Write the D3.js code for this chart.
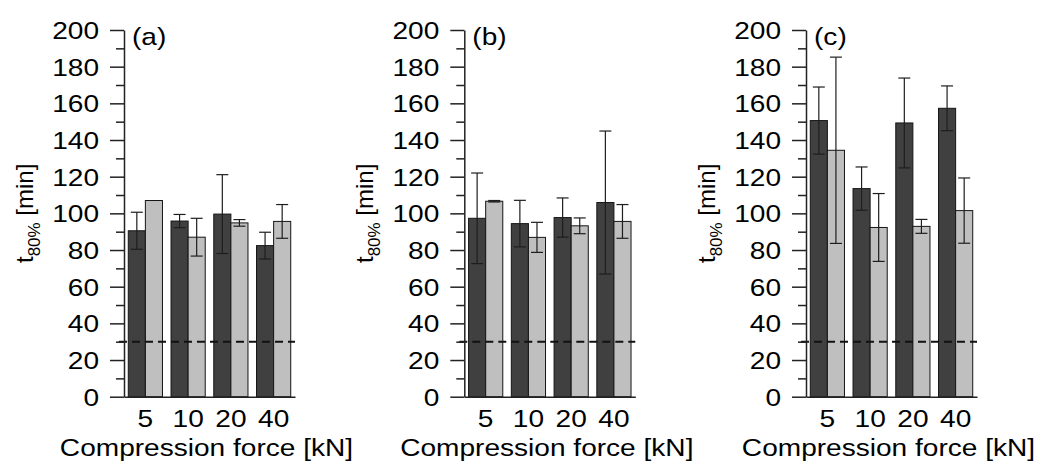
<!DOCTYPE html>
<html>
<head>
<meta charset="utf-8">
<script src="https://cdn.jsdelivr.net/npm/d3@7"></script>
<style>
  html, body { margin: 0; padding: 0; background: #fff; }
  svg { display: block; }
  text { font-family: "Liberation Sans", Arial, sans-serif; fill: #000; }
</style>
</head>
<body>
<svg id="chart" width="1046" height="464"></svg>
<script>
// ---- data ----
const categories = ["5", "10", "20", "40"];
const panelLabels = ["(a)", "(b)", "(c)"];
const darkValues = [
  [90.5, 95.8, 99.6, 82.4],
  [97.3, 94.4, 97.7, 105.9],
  [150.6, 113.5, 149.3, 157.3]
];
const darkErrors = [
  [10.1, 3.6, 21.5, 7.3],
  [24.7, 12.7, 10.7, 39.0],
  [18.3, 11.8, 24.5, 12.2]
];
const lightValues = [
  [107.0, 87.0, 94.8, 95.6],
  [106.6, 86.9, 93.2, 95.6],
  [134.4, 92.3, 92.9, 101.5]
];
const lightErrors = [
  [0.0, 10.3, 1.8, 9.2],
  [0.4, 8.2, 4.3, 9.2],
  [50.8, 18.5, 3.8, 17.8]
];
const yMajorTicks = [0, 20, 40, 60, 80, 100, 120, 140, 160, 180, 200];
const yMinorTicks = [10, 30, 50, 70, 90, 110, 130, 150, 170, 190];
const thresholdValue = 30;
const xTitle = "Compression force [kN]";

// ---- layout ----
const svg = d3.select("#chart");
const panelX = [124, 464.3, 806];
const panelW = 171;
const yTop = 30, yBottom = 396.7;
const SX = 1.17; // horizontal glyph stretch of the original figure
const darkFill = "#404040", lightFill = "#bfbfbf";

const y = d3.scaleLinear().domain([0, 200]).range([yBottom, yTop]);

panelLabels.forEach((lab, p) => {
  const x0 = panelX[p];
  const g = svg.append("g");
  const x = d3.scaleBand().domain(categories).range([x0, x0 + panelW])
    .paddingInner(0.2).paddingOuter(0.1);
  const sub = d3.scaleBand().domain(["dark", "light"]).range([0, x.bandwidth()]);

  const rows = categories.map((c, i) => ([
    { c, s: "dark", v: darkValues[p][i], e: darkErrors[p][i], fill: darkFill },
    { c, s: "light", v: lightValues[p][i], e: lightErrors[p][i], fill: lightFill }
  ])).flat();

  // bars
  g.selectAll("rect.bar").data(rows).join("rect")
    .attr("class", "bar")
    .attr("x", d => x(d.c) + sub(d.s))
    .attr("width", sub.bandwidth())
    .attr("y", d => y(d.v))
    .attr("height", d => y(0) - y(d.v))
    .attr("fill", d => d.fill)
    .attr("stroke", "#151515")
    .attr("stroke-width", 1);

  // error bars
  const cap = 6;
  const eb = g.selectAll("g.eb").data(rows.filter(d => d.e > 0)).join("g").attr("class", "eb")
    .attr("stroke", "#1e1e1e").attr("stroke-width", 1.2);
  eb.append("line")
    .attr("x1", d => x(d.c) + sub(d.s) + sub.bandwidth() / 2)
    .attr("x2", d => x(d.c) + sub(d.s) + sub.bandwidth() / 2)
    .attr("y1", d => y(d.v - d.e)).attr("y2", d => y(d.v + d.e));
  eb.append("line")
    .attr("x1", d => x(d.c) + sub(d.s) + sub.bandwidth() / 2 - cap)
    .attr("x2", d => x(d.c) + sub(d.s) + sub.bandwidth() / 2 + cap)
    .attr("y1", d => y(d.v + d.e)).attr("y2", d => y(d.v + d.e));
  eb.append("line")
    .attr("x1", d => x(d.c) + sub(d.s) + sub.bandwidth() / 2 - cap)
    .attr("x2", d => x(d.c) + sub(d.s) + sub.bandwidth() / 2 + cap)
    .attr("y1", d => y(d.v - d.e)).attr("y2", d => y(d.v - d.e));

  // dashed threshold line
  g.append("line")
    .attr("x1", x0 - 5).attr("x2", x0 + panelW)
    .attr("y1", y(thresholdValue)).attr("y2", y(thresholdValue))
    .attr("stroke", "#111").attr("stroke-width", 2)
    .attr("stroke-dasharray", "8,5");

  // y axis minor
  const yMinor = g.append("g").attr("transform", `translate(${x0},0)`)
    .call(d3.axisLeft(y).tickValues(yMinorTicks).tickSize(8).tickSizeOuter(0).tickFormat(""));
  yMinor.select(".domain").remove();
  // y axis major
  const yAx = g.append("g").attr("transform", `translate(${x0},0)`)
    .call(d3.axisLeft(y).tickValues(yMajorTicks).tickSize(14).tickSizeOuter(0).tickFormat(d3.format("d")));
  yAx.selectAll("text")
    .attr("x", null).attr("dy", null)
    .attr("transform", `translate(-25,8.5) scale(${SX},1)`)
    .style("font-size", "24px").attr("fill", "#000");
  g.selectAll(".tick line").attr("stroke", "#222").attr("stroke-width", 1.5);
  yAx.select(".domain").attr("stroke", "#222").attr("stroke-width", 1.5);

  // x axis
  const xAx = g.append("g").attr("transform", `translate(0,${yBottom})`)
    .call(d3.axisBottom(x).tickSize(0).tickSizeOuter(0));
  xAx.select(".domain").attr("stroke", "#222").attr("stroke-width", 1.5);
  xAx.selectAll("text")
    .attr("y", null).attr("dy", null)
    .attr("transform", `translate(0,30) scale(${SX},1)`)
    .style("font-size", "24px").attr("fill", "#000");

  // x title
  g.append("text")
    .attr("transform", `translate(${x0 + panelW / 2 - 3},456) scale(${SX},1)`)
    .attr("text-anchor", "middle")
    .style("font-size", "24px")
    .text(xTitle);

  // panel label
  g.append("text")
    .attr("transform", `translate(${x0 + 8},45) scale(${SX},1)`)
    .style("font-size", "24px")
    .text(lab);

  // y title
  const yt = g.append("text")
    .attr("transform", `translate(${x0 - 91},${(yTop + yBottom) / 2}) rotate(-90)`)
    .attr("text-anchor", "middle")
    .style("font-size", "24px");
  yt.append("tspan").text("t");
  yt.append("tspan").attr("dy", 7).style("font-size", "17px").text("80%");
  yt.append("tspan").attr("dy", -7).text(" [min]");
});
</script>
</body>
</html>
